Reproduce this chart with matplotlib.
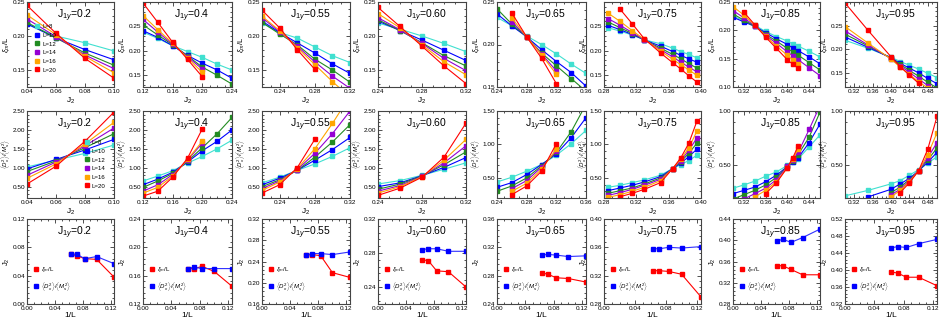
import numpy as np
import matplotlib
matplotlib.use("Agg")
import matplotlib.pyplot as plt
from matplotlib.ticker import AutoMinorLocator, FormatStrFormatter

plt.rcParams['font.family'] = ['Liberation Sans', 'DejaVu Sans']
plt.rcParams['mathtext.fontset'] = 'custom'
plt.rcParams['mathtext.rm'] = 'Liberation Sans'
plt.rcParams['mathtext.it'] = 'Liberation Sans:italic'

nan = np.nan
J1Y_LABELS = ["0.2", "0.4", "0.55", "0.60", "0.65", "0.75", "0.85", "0.95"]
L_SIZES = [8, 10, 12, 14, 16, 20]
L_COLORS = ['#40E0D0', '#0000FF', '#228B22', '#9400D3', '#FFA500', '#FF0000']

# ---------------- Row 1: xi/L vs J2 ----------------
XI_X1 = [0.04, 0.06, 0.08, 0.10]
XI_Y1 = [[0.217, 0.200, 0.190, 0.178],
         [0.218, 0.197, 0.180, 0.165],
         [0.220, 0.197, 0.175, 0.157],
         [0.225, 0.199, 0.172, 0.152],
         [0.231, 0.202, 0.170, 0.146],
         [0.245, 0.204, 0.167, 0.138]]
XI_X2 = [0.12, 0.14, 0.16, 0.18, 0.20, 0.22, 0.24]
XI_Y2 = [[0.238, 0.225, 0.210, 0.198, 0.186, 0.172, 0.160],
         [0.241, 0.227, 0.210, 0.190, 0.174, 0.160, 0.143],
         [0.253, 0.232, 0.212, 0.189, 0.166, 0.149, 0.131],
         [0.264, 0.238, 0.213, 0.187, 0.162, nan, nan],
         [0.272, 0.243, 0.215, 0.185, 0.155, nan, nan],
         [0.298, 0.258, 0.217, 0.182, 0.146, nan, nan]]
XI_X3 = [0.22, 0.24, 0.26, 0.28, 0.30, 0.32]
XI_Y3 = [[0.219, 0.205, 0.197, 0.184, 0.171, 0.161],
         [0.222, 0.205, 0.190, 0.175, 0.159, 0.145],
         [0.220, 0.203, 0.187, 0.166, 0.150, 0.132],
         [0.227, 0.206, 0.185, 0.162, 0.141, 0.123],
         [0.229, 0.208, 0.183, 0.158, 0.133, 0.110],
         [0.238, 0.212, 0.180, 0.151, nan, nan]]
XI_X4 = [0.24, 0.26, 0.28, 0.30, 0.32]
XI_Y4 = [[0.219, 0.210, 0.200, 0.189, 0.177],
         [0.222, 0.208, 0.194, 0.179, 0.164],
         [0.224, 0.208, 0.190, 0.171, 0.156],
         [0.227, 0.209, 0.189, 0.167, 0.149],
         [0.233, 0.212, 0.187, 0.162, 0.143],
         [0.242, 0.214, 0.185, 0.156, 0.130]]
XI_X5 = [0.24, 0.26, 0.28, 0.30, 0.32, 0.34, 0.36]
XI_Y5 = [[0.232, 0.222, 0.210, 0.200, 0.189, 0.177, 0.166],
         [0.236, 0.222, 0.209, 0.194, 0.180, 0.167, 0.151],
         [0.242, 0.224, 0.209, 0.190, 0.175, 0.160, 0.145],
         [nan, 0.227, 0.209, 0.189, 0.169, nan, nan],
         [nan, 0.231, 0.209, 0.188, 0.165, nan, nan],
         [nan, 0.237, 0.209, 0.184, 0.154, nan, nan]]
XI_X6 = [0.285, 0.30, 0.315, 0.33, 0.35, 0.365, 0.375, 0.385, 0.395]
XI_Y6 = [[0.247, 0.240, 0.232, 0.222, 0.214, 0.205, 0.198, 0.192, 0.185],
         [0.252, 0.243, 0.233, 0.222, 0.209, 0.198, 0.190, 0.183, 0.176],
         [0.259, 0.247, 0.235, 0.222, 0.205, 0.192, 0.183, 0.173, 0.164],
         [0.266, 0.252, 0.237, 0.222, 0.202, 0.187, 0.176, 0.166, 0.156],
         [0.277, 0.260, 0.241, 0.223, 0.199, 0.182, 0.171, 0.160, 0.149],
         [nan, 0.285, 0.255, 0.224, 0.195, 0.175, 0.162, 0.148, 0.135]]
XI_X7 = [0.30, 0.32, 0.34, 0.36, 0.38, 0.40, 0.41, 0.42, 0.44, 0.46]
XI_Y7 = [[0.225, 0.217, 0.209, 0.198, 0.189, 0.181, 0.176, 0.172, 0.163, 0.153],
         [0.223, 0.215, 0.207, 0.196, 0.185, 0.175, 0.169, 0.164, 0.153, 0.141],
         [0.229, 0.218, 0.207, 0.193, 0.181, 0.168, 0.162, 0.156, 0.143, 0.130],
         [0.235, 0.222, 0.208, 0.191, 0.177, 0.162, 0.155, 0.148, 0.134, 0.120],
         [0.242, 0.227, 0.209, 0.190, 0.172, 0.156, 0.148, 0.141, nan, nan],
         [nan, 0.232, 0.210, 0.188, 0.168, 0.148, 0.140, 0.133, nan, nan]]
XI_X8 = [0.30, 0.35, 0.40, 0.42, 0.44, 0.46, 0.48, 0.50]
XI_Y8 = [[0.219, 0.202, 0.183, 0.174, 0.166, 0.158, 0.149, 0.140],
         [0.226, 0.204, 0.182, 0.170, 0.160, 0.150, 0.138, 0.127],
         [0.232, 0.207, 0.181, 0.168, 0.155, 0.143, 0.130, 0.118],
         [0.239, 0.209, 0.180, 0.165, 0.151, 0.137, 0.123, nan],
         [0.248, 0.213, 0.179, 0.162, 0.147, 0.131, 0.118, nan],
         [0.298, 0.240, 0.184, 0.163, 0.145, 0.128, nan, nan]]

# ---------------- Row 2: <D^2>/<M^2> vs J2 ----------------
D_X1 = XI_X1
D_Y1 = [[1.02, 1.20, 1.38, 1.60],
        [0.97, 1.22, 1.47, 1.75],
        [0.90, 1.18, 1.53, 1.90],
        [0.80, 1.15, 1.58, 2.05],
        [0.72, 1.10, 1.63, 2.20],
        [0.57, 1.04, 1.70, 2.47]]
D_X2 = XI_X2
D_Y2 = [[0.65, 0.78, 0.92, 1.12, 1.30, 1.50, 1.73],
        [0.55, 0.70, 0.88, 1.15, 1.45, 1.70, 2.00],
        [0.48, 0.65, 0.85, 1.17, 1.53, 1.90, 2.33],
        [0.38, 0.55, 0.82, 1.20, 1.65, nan, nan],
        [0.33, 0.48, 0.78, 1.22, 1.70, nan, nan],
        [0.25, 0.38, 0.75, 1.25, 2.03, nan, nan]]
D_X3 = XI_X3
D_Y3 = [[0.60, 0.75, 0.93, 1.10, 1.30, 1.53],
        [0.55, 0.72, 0.93, 1.20, 1.48, 1.80],
        [0.50, 0.68, 0.93, 1.28, 1.68, 2.14],
        [0.45, 0.65, 0.95, 1.38, 1.90, 2.50],
        [0.40, 0.62, 0.97, 1.50, 2.17, 2.90],
        [0.33, 0.55, 1.00, 1.75, nan, nan]]
D_X4 = XI_X4
D_Y4 = [[0.57, 0.66, 0.80, 0.96, 1.13],
        [0.50, 0.60, 0.79, 1.01, 1.27],
        [0.43, 0.57, 0.78, 1.08, 1.42],
        [0.38, 0.53, 0.77, 1.13, 1.58],
        [0.33, 0.50, 0.76, 1.20, 1.75],
        [0.27, 0.46, 0.75, 1.28, 2.18]]
D_X5 = XI_X5
D_Y5 = [[0.44, 0.51, 0.60, 0.70, 0.84, 1.01, 1.21],
        [0.36, 0.43, 0.55, 0.70, 0.86, 1.10, 1.40],
        [0.30, 0.38, 0.50, 0.68, 0.88, 1.19, 1.60],
        [nan, 0.34, 0.46, 0.66, 0.90, nan, nan],
        [nan, 0.30, 0.42, 0.63, 0.93, nan, nan],
        [nan, 0.25, 0.38, 0.60, 1.01, nan, nan]]
D_X6 = XI_X6
D_Y6 = [[0.36, 0.39, 0.43, 0.47, 0.54, 0.64, 0.70, 0.76, 0.84],
        [0.31, 0.35, 0.39, 0.44, 0.52, 0.64, 0.72, 0.82, 0.93],
        [0.27, 0.31, 0.35, 0.41, 0.50, 0.64, 0.74, 0.87, 1.02],
        [0.24, 0.28, 0.33, 0.39, 0.48, 0.64, 0.76, 0.91, 1.10],
        [0.21, 0.25, 0.30, 0.36, 0.46, 0.64, 0.78, 0.95, 1.20],
        [nan, 0.22, 0.27, 0.33, 0.43, 0.64, 0.80, 1.02, 1.35]]
D_X7 = XI_X7
D_Y7 = [[0.29, 0.32, 0.355, 0.40, 0.44, 0.50, 0.53, 0.56, 0.67, 0.78],
        [0.24, 0.27, 0.30, 0.35, 0.41, 0.49, 0.53, 0.57, 0.71, 0.88],
        [0.19, 0.23, 0.27, 0.32, 0.39, 0.49, 0.54, 0.60, 0.76, 0.99],
        [nan, 0.19, 0.24, 0.29, 0.37, 0.49, 0.55, 0.62, 0.83, 1.05],
        [nan, nan, 0.21, 0.27, 0.35, 0.48, 0.56, 0.65, nan, nan],
        [nan, nan, nan, 0.24, 0.34, 0.48, 0.57, 0.68, nan, nan]]
D_X8 = XI_X8
D_Y8 = [[0.22, 0.27, 0.33, 0.36, 0.41, 0.46, 0.52, 0.58],
        [nan, 0.21, 0.28, 0.33, 0.38, 0.45, 0.53, 0.62],
        [nan, nan, 0.25, 0.30, 0.37, 0.45, 0.55, 0.66],
        [nan, nan, 0.23, 0.28, 0.36, 0.45, 0.57, 0.71],
        [nan, nan, 0.21, 0.27, 0.35, 0.45, 0.60, 0.80],
        [nan, nan, nan, 0.25, 0.34, 0.45, 0.65, 0.95]]

# ---------------- Row 3: crossing J2 vs 1/L ----------------
INV_L = [1/16, 1/14, 1/12, 1/10, 1/8]
CROSS_XI = [[0.071, 0.068, 0.064, 0.063, 0.038],
            [0.170, 0.170, 0.173, 0.166, 0.145],
            [0.252, 0.253, 0.251, 0.219, 0.210],
            [0.272, 0.271, 0.259, 0.258, 0.240],
            [0.284, 0.282, 0.277, 0.276, 0.271],
            [0.327, 0.327, 0.326, 0.322, 0.290],
            [0.352, 0.352, 0.345, 0.335, 0.335],
            [0.395, 0.393, 0.383, 0.383, 0.363]]
CROSS_D = [[0.071, 0.070, 0.064, 0.067, 0.057],
           [0.170, 0.172, 0.170, 0.170, 0.170],
           [0.252, 0.255, 0.255, 0.253, 0.258],
           [0.284, 0.285, 0.285, 0.282, 0.282],
           [0.309, 0.310, 0.309, 0.307, 0.308],
           [0.358, 0.358, 0.360, 0.359, 0.361],
           [0.398, 0.402, 0.396, 0.405, 0.421],
           [0.452, 0.455, 0.453, 0.462, 0.472]]

XI_XS = [XI_X1, XI_X2, XI_X3, XI_X4, XI_X5, XI_X6, XI_X7, XI_X8]
XI_YS = [XI_Y1, XI_Y2, XI_Y3, XI_Y4, XI_Y5, XI_Y6, XI_Y7, XI_Y8]
D_XS = [D_X1, D_X2, D_X3, D_X4, D_X5, D_X6, D_X7, D_X8]
D_YS = [D_Y1, D_Y2, D_Y3, D_Y4, D_Y5, D_Y6, D_Y7, D_Y8]

J2_XLIM = [(0.04, 0.10), (0.12, 0.24), (0.22, 0.32), (0.24, 0.32),
           (0.24, 0.36), (0.28, 0.40), (0.30, 0.46), (0.30, 0.50)]
J2_XTICKS = [[0.04, 0.06, 0.08, 0.10], [0.12, 0.16, 0.20, 0.24],
             [0.24, 0.28, 0.32], [0.24, 0.28, 0.32],
             [0.24, 0.28, 0.32, 0.36], [0.28, 0.32, 0.36, 0.40],
             [0.32, 0.36, 0.40, 0.44], [0.32, 0.36, 0.40, 0.44, 0.48]]
XI_YLIM = [(0.125, 0.25), (0.125, 0.30), (0.125, 0.25), (0.125, 0.25),
           (0.15, 0.25), (0.125, 0.30), (0.10, 0.25), (0.12, 0.30)]
XI_YTICKS = [[0.15, 0.20, 0.25]] * 6 + [[0.10, 0.15, 0.20, 0.25], [0.15, 0.20, 0.25]]
D_YLIM = [(0.2, 2.5)] * 4 + [(0.2, 1.5), (0.2, 1.5), (0.2, 1.0), (0.2, 1.0)]
D_YTICKS = [[0.5, 1.0, 1.5, 2.0, 2.5]] * 4 + [[0.5, 1.0, 1.5]] * 2 + [[0.5, 1.0]] * 2
C_YLIM = [(0.0, 0.12), (0.12, 0.24), (0.16, 0.32), (0.22, 0.32),
          (0.24, 0.36), (0.28, 0.40), (0.28, 0.44), (0.32, 0.52)]
C_YTICKS = [[0.0, 0.04, 0.08, 0.12], [0.12, 0.16, 0.20, 0.24],
            [0.16, 0.20, 0.24, 0.28, 0.32], [0.24, 0.28, 0.32],
            [0.24, 0.28, 0.32, 0.36], [0.28, 0.32, 0.36, 0.40],
            [0.28, 0.32, 0.36, 0.40, 0.44], [0.32, 0.36, 0.40, 0.44, 0.48, 0.52]]

W, H = 941, 323
fig = plt.figure(figsize=(W / 100, H / 100), dpi=100)

LEFTS = [27, 143, 262, 378, 497, 604, 733, 845]
WIDTHS = [87, 89, 88, 88, 89, 97, 87, 92]
ROWS = [(2, 87), (111, 198), (219, 304)]

TFS = 4.6
LFS = 6.0
LEGFS = 4.4


def style(ax, xlim, xticks, ylim, yticks):
    ax.set_xlim(*xlim)
    ax.set_ylim(*ylim)
    ax.set_xticks(xticks)
    ax.set_yticks(yticks)
    ax.xaxis.set_major_formatter(FormatStrFormatter('%.2f'))
    ax.yaxis.set_major_formatter(FormatStrFormatter('%.2f'))
    ax.xaxis.set_minor_locator(AutoMinorLocator(2 if (xticks[1] - xticks[0]) < 0.03 else 4))
    ax.yaxis.set_minor_locator(AutoMinorLocator(5))
    ax.tick_params(which='both', direction='in', top=True, right=True,
                   labelsize=TFS, pad=1.5, width=0.6, colors='#333333', labelcolor='black')
    ax.tick_params(which='major', length=3)
    ax.tick_params(which='minor', length=1.6)
    for s in ax.spines.values():
        s.set_linewidth(0.8)
        s.set_color('#444444')


def marker_handles(colors):
    return [plt.Line2D([], [], ls='none', marker='s', color=c, ms=2.6) for c in colors]


for k in range(8):
    x0 = LEFTS[k] / W
    w = WIDTHS[k] / W
    axes = []
    for (t, b) in ROWS:
        axes.append(fig.add_axes([x0, 1 - b / H, w, (b - t) / H]))
    a1, a2, a3 = axes

    # row 1
    for L, c, ys in zip(L_SIZES, L_COLORS, XI_YS[k]):
        a1.plot(XI_XS[k], ys, '-s', color=c, lw=0.8, ms=2.2)
    style(a1, J2_XLIM[k], J2_XTICKS[k], XI_YLIM[k], XI_YTICKS[k])
    a1.set_xlabel('J$_2$', fontsize=LFS, labelpad=1.5)
    a1.set_ylabel(r'$\xi_m$/L', fontsize=5.5, labelpad=0.5)

    # row 2
    for L, c, ys in zip(L_SIZES, L_COLORS, D_YS[k]):
        a2.plot(D_XS[k], ys, '-s', color=c, lw=0.8, ms=2.2)
    style(a2, J2_XLIM[k], J2_XTICKS[k], D_YLIM[k], D_YTICKS[k])
    a2.set_xlabel('J$_2$', fontsize=LFS, labelpad=1.5)
    a2.set_ylabel(r'$\langle D_x^2\rangle/\langle M_s^2\rangle$', fontsize=4.4, labelpad=0.3)

    # row 3
    a3.plot(INV_L, CROSS_XI[k], '-s', color='#FF0000', lw=0.8, ms=2.4)
    a3.plot(INV_L, CROSS_D[k], '-s', color='#3030FF', lw=0.8, ms=2.4, mfc='#0000FF', mec='#0000FF')
    style(a3, (0.0, 0.125), [0.0, 0.04, 0.08, 0.12], C_YLIM[k], C_YTICKS[k])
    a3.xaxis.set_minor_locator(AutoMinorLocator(4))
    a3.set_xlabel('1/L', fontsize=LFS, labelpad=0.5)
    a3.set_ylabel('J$_2$', fontsize=5.5, labelpad=0.5)
    a3.legend(marker_handles(['#FF0000', '#0000FF']),
              [r'$\xi_m$/L', r'$\langle D_x^2\rangle/\langle M_s^2\rangle$'],
              loc='lower left', bbox_to_anchor=(0.03, 0.08), fontsize=LEGFS,
              frameon=False, handlelength=0.6, handletextpad=0.5,
              labelspacing=1.0, borderpad=0.2)

    for ax in axes:
        ax.text(0.55, 0.84, 'J$_{1y}$=' + J1Y_LABELS[k], transform=ax.transAxes,
                ha='center', va='center', fontsize=7.5)

    if k == 0:
        labels = [f'L={L}' for L in L_SIZES]
        a1.legend(marker_handles(L_COLORS), labels, loc='lower left',
                  bbox_to_anchor=(0.05, 0.12), fontsize=LEGFS,
                  frameon=False, handlelength=0.6, handletextpad=0.5,
                  labelspacing=0.55, borderpad=0.2)
        a2.legend(marker_handles(L_COLORS), labels, loc='lower left',
                  bbox_to_anchor=(0.62, 0.06), fontsize=LEGFS,
                  frameon=False, handlelength=0.6, handletextpad=0.5,
                  labelspacing=0.55, borderpad=0.2)

fig.savefig('out.png', dpi=100)
